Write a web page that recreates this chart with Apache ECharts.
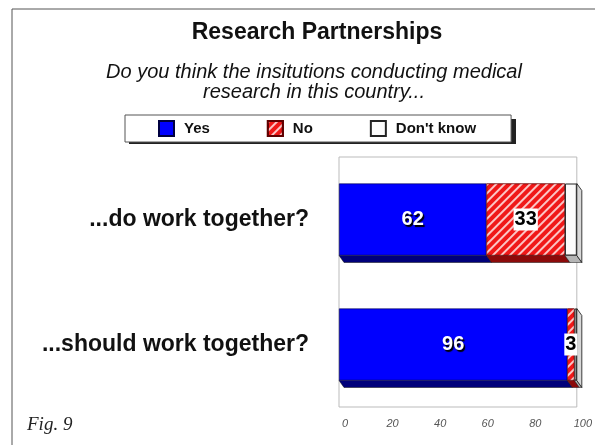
<!DOCTYPE html>
<html><head><meta charset="utf-8">
<script src="https://cdn.jsdelivr.net/npm/echarts@6/dist/echarts.min.js"></script>
<style>html,body{margin:0;padding:0;background:#fff}#c{width:595px;height:445px}</style>
</head><body><div id="c"></div>
<script>
const categories = ['...do work together?', '...should work together?'];
const yesValues = [62, 96];
const noValues = [33, 3];
const dontKnowValues = [5, 1];
const xTicks = [0, 20, 40, 60, 80, 100];

// depth faces (pseudo-3D) built from the same values
const seriesVals = [yesValues, noValues, dontKnowValues];
const depthData = [];
categories.forEach((c, i) => {
  let acc = 0;
  seriesVals.forEach((arr, k) => {
    depthData.push([acc, acc + arr[i], i, k]);
    acc += arr[i];
  });
});
const depthColors = ['#00007a', '#8c0a0a', '#b5b5b5'];
const BAR = 72, DX = 5, DY = 7;

const chart = echarts.init(document.getElementById('c'));
const option = {
  backgroundColor: '#fff',
  animation: false,
  title: [{
    text: 'Research Partnerships', left: 312, top: 16, textAlign: 'center',
    textStyle: {fontFamily: 'Liberation Sans', fontWeight: 'bold', fontSize: 23, color: '#111'}
  }, {
    text: 'Do you think the insitutions conducting medical\nresearch in this country...', left: 309, top: 57, textAlign: 'center',
    textStyle: {fontFamily: 'Liberation Sans', fontStyle: 'italic', fontWeight: 'normal', fontSize: 20, lineHeight: 20, color: '#111'}
  }],
  legend: {
    left: 125, top: 115, z: 5,
    padding: [5, 35, 5, 33],
    itemGap: 57,
    itemWidth: 15, itemHeight: 15,
    icon: 'rect',
    backgroundColor: '#fff', borderColor: '#555', borderWidth: 1,
    textStyle: {fontFamily: 'Liberation Sans', fontWeight: 'bold', fontSize: 15, color: '#111', padding: [0, 0, 0, 5]},
    data: ['Yes', 'No', "Don't know"]
  },
  grid: {left: 339, right: 15, top: 157, bottom: 38, show: true, borderColor: '#bbb', borderWidth: 1, backgroundColor: '#fff'},
  xAxis: {
    type: 'value', min: 0, max: 100, interval: 20,
    axisLine: {show: false}, axisTick: {show: false}, splitLine: {show: false},
    axisLabel: {margin: 11, padding: [0, 0, 0, 12], fontFamily: 'Liberation Sans', fontStyle: 'italic', fontSize: 11, color: '#555',
      formatter: v => xTicks.includes(v) ? String(v) : ''}
  },
  yAxis: {
    type: 'category', data: categories, inverse: true,
    axisLine: {show: false}, axisTick: {show: false},
    axisLabel: {margin: 30, fontFamily: 'Liberation Sans', fontWeight: 'bold', fontSize: 23, color: '#111'}
  },
  series: [{
    name: 'Yes', type: 'bar', stack: 's', data: yesValues, barWidth: BAR,
    itemStyle: {color: '#0000FF', borderColor: '#000040', borderWidth: 0.6},
    label: {show: true, position: 'inside', color: '#fff', fontFamily: 'Liberation Sans', fontWeight: 'bold', fontSize: 20,
      textShadowColor: '#000', textShadowOffsetX: 1.5, textShadowOffsetY: 1.5, textShadowBlur: 1}
  }, {
    name: 'No', type: 'bar', stack: 's', data: noValues,
    itemStyle: {color: '#F01818', borderColor: '#600000', borderWidth: 0.5,
      decal: {symbol: 'rect', color: 'rgba(255,255,255,0.75)', dashArrayX: [1, 0], dashArrayY: [1.5, 4], rotation: -Math.PI / 4, symbolSize: 1}},
    label: {show: true, position: 'inside', color: '#000', backgroundColor: '#fff', padding: [2, 1, 0, 1],
      fontFamily: 'Liberation Sans', fontWeight: 'bold', fontSize: 20}
  }, {
    name: "Don't know", type: 'bar', stack: 's', data: dontKnowValues,
    itemStyle: {color: '#fbfbfb', borderColor: '#222', borderWidth: 1},
    label: {show: false}
  }, {
    name: 'depth', type: 'custom', data: depthData, silent: true, z: 1,
    encode: {x: [0, 1], y: 2},
    renderItem: function (params, api) {
      const s = api.value(0), e = api.value(1), cat = api.value(2), k = api.value(3);
      const p0 = api.coord([s, cat]);
      const p1 = api.coord([e, cat]);
      const yc = p0[1], h = BAR / 2;
      const children = [{
        type: 'polygon',
        shape: {points: [[p0[0], yc + h], [p1[0], yc + h], [p1[0] + DX, yc + h + DY], [p0[0] + DX, yc + h + DY]]},
        style: {fill: depthColors[k], stroke: '#111', lineWidth: 0.5}
      }];
      if (k === 2) {
        children.push({
          type: 'polygon',
          shape: {points: [[p1[0], yc - h], [p1[0] + DX, yc - h + DY], [p1[0] + DX, yc + h + DY], [p1[0], yc + h]]},
          style: {fill: '#d8d8d8', stroke: '#111', lineWidth: 0.8}
        });
      }
      return {type: 'group', children: children};
    }
  }],
  graphic: [{
    type: 'rect', shape: {x: 12, y: 9, width: 600, height: 450}, style: {fill: 'none', stroke: '#555', lineWidth: 1}, silent: true, z: -1
  }, {
    type: 'rect', shape: {x: 129, y: 119, width: 387, height: 25}, style: {fill: '#222'}, silent: true, z: 0
  }, {
    type: 'text', left: 27, top: 415,
    style: {text: 'Fig. 9', font: 'italic 19px "Liberation Serif"', fill: '#222'}
  }]
};
chart.setOption(option);
</script>
</body></html>
